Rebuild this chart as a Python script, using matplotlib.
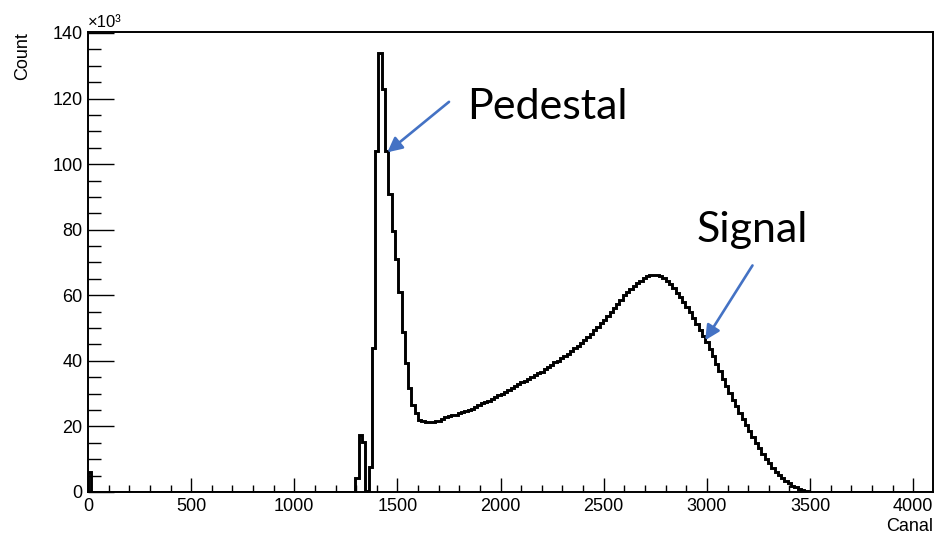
import numpy as np
import matplotlib
matplotlib.use("Agg")
import matplotlib.pyplot as plt
from matplotlib.ticker import MultipleLocator

# histogram: 256 channels of width 16 (ADC 0..4096), counts in units of 10^3
bin_width = 16
n_bins = 256
first_bin_counts = [6.2]            # channel 0
peak_start = 1296                   # first non-empty channel after the gap
peak_counts = [
    4.2, 17.5, 15.3, 0.4, 7.7, 44.0, 104.0, 134.0, 123.0, 104.0,
    91.0, 79.7, 71.0, 61.0, 48.8, 39.2, 31.6, 26.5, 24.0, 22.0,
    21.6, 21.4, 21.3, 21.4, 21.6, 21.8, 22.3, 22.8, 23.2, 23.5,
    23.6, 24.0, 24.3, 24.6, 25.1, 25.4, 25.9, 26.5, 27.0, 27.4,
    27.9, 28.3, 28.9, 29.5, 30.0, 30.6, 31.1, 31.7, 32.2, 32.9,
    33.5, 34.0, 34.6, 35.1, 35.6, 36.2, 36.7, 37.4, 38.0, 38.7,
    39.5, 40.1, 40.9, 41.5, 42.2, 43.0, 43.8, 44.6, 45.4, 46.3,
    47.3, 48.3, 49.4, 50.4, 51.4, 52.6, 53.8, 55.0, 56.2, 57.3,
    58.6, 60.0, 61.0, 62.0, 62.8, 63.7, 64.5, 65.2, 65.8, 66.2,
    66.3, 66.2, 65.9, 65.2, 64.3, 63.3, 62.1, 60.8, 59.5, 58.0,
    56.5, 54.8, 53.0, 51.2, 49.5, 47.6, 45.8, 43.6, 41.4, 39.0,
    36.8, 34.6, 32.4, 30.2, 28.2, 26.2, 24.2, 22.4, 20.5, 18.6,
    16.8, 15.0, 13.3, 11.6, 10.0, 8.7, 7.4, 6.2, 5.1, 4.2,
    3.3, 2.6, 1.9, 1.4, 0.9, 0.6, 0.3, 0.15, 0.05,
]

n_gap = peak_start // bin_width - len(first_bin_counts)
counts = first_bin_counts + [0.0] * n_gap + peak_counts
counts = np.array(counts + [0.0] * (n_bins - len(counts)))
edges = np.arange(n_bins + 1) * bin_width

font = "Liberation Sans"
plt.rcParams["font.family"] = [font, "DejaVu Sans"]

fig = plt.figure(figsize=(9.35, 5.33), dpi=100)
ax = fig.add_axes([88 / 935, 41 / 533, 845 / 935, 460 / 533])

ax.stairs(counts, edges, color="black", lw=2.1, baseline=0)

ax.set_xlim(0, 4096)
ax.set_ylim(0, 140.3)

ax.xaxis.set_major_locator(MultipleLocator(500))
ax.xaxis.set_minor_locator(MultipleLocator(100))
ax.yaxis.set_major_locator(MultipleLocator(20))
ax.yaxis.set_minor_locator(MultipleLocator(5))

ax.tick_params(axis="x", which="major", direction="in", length=10, width=1.0,
               labelsize=13, pad=4, top=False)
ax.tick_params(axis="x", which="minor", direction="in", length=5, width=1.0, top=False)
ax.tick_params(axis="y", which="major", direction="in", length=18.5, width=1.0,
               labelsize=13, pad=4, right=False)
ax.tick_params(axis="y", which="minor", direction="in", length=9.3, width=1.0, right=False)

for s in ax.spines.values():
    s.set_linewidth(1.4)

ax.set_xlabel("Canal", fontsize=13, loc="right")
ax.xaxis.set_label_coords(1.0, -0.056)
ax.set_ylabel("Count", fontsize=13, loc="top")
ax.yaxis.set_label_coords(-0.067, 1.0)

ax.text(0.0, 1.004, "×10³", transform=ax.transAxes, fontsize=12,
        ha="left", va="bottom")

# slide annotations
blue = "#4472C4"
ax.annotate("", xy=(1451, 103.6), xytext=(1750, 119.0),
            arrowprops=dict(arrowstyle="-|>", color=blue, lw=1.9,
                            mutation_scale=22, shrinkA=0, shrinkB=0))
ax.text(1836, 113.8, "Pedestal", fontsize=31, family="Lato",
        ha="left", va="baseline")

ax.annotate("", xy=(2992, 46.3), xytext=(3221, 69.1),
            arrowprops=dict(arrowstyle="-|>", color=blue, lw=1.9,
                            mutation_scale=22, shrinkA=0, shrinkB=0))
ax.text(3220, 76.2, "Signal", fontsize=31, family="Lato",
        ha="center", va="baseline")

fig.savefig("out.png", dpi=100)
